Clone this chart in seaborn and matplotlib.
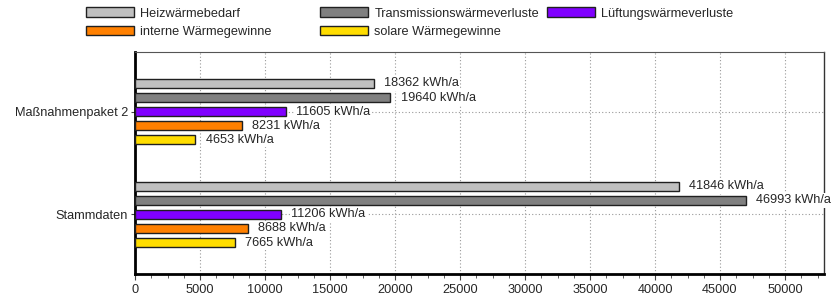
import matplotlib
matplotlib.use("Agg")
import matplotlib.pyplot as plt
import seaborn as sns
import pandas as pd
from matplotlib.patches import Patch
from matplotlib.ticker import MultipleLocator

categories = ["Maßnahmenpaket 2", "Stammdaten"]
series = ["Heizwärmebedarf", "Transmissionswärmeverluste", "Lüftungswärmeverluste",
          "interne Wärmegewinne", "solare Wärmegewinne"]
heiz = [18362, 41846]
trans = [19640, 46993]
lueft = [11605, 11206]
intern = [8231, 8688]
solar = [4653, 7665]
colors = ["#C0C0C0", "#808080", "#8000FF", "#FF8000", "#FFDD00"]
unit = "kWh/a"

values = [heiz, trans, lueft, intern, solar]
rows = []
for s, vals in zip(series, values):
    for c, v in zip(categories, vals):
        rows.append({"Kategorie": c, "Serie": s, "Wert": v})
df = pd.DataFrame(rows)

sns.set_style("white")
plt.rcParams["font.family"] = ["Liberation Sans", "DejaVu Sans"]
FS = 9.2
plt.rcParams["font.size"] = FS

fig = plt.figure(figsize=(8.33, 3.03), dpi=100)
ax = fig.add_axes([135/833, 1-274/303, (824-135)/833, (274-52)/303])

sns.barplot(data=df, y="Kategorie", x="Wert", hue="Serie", order=categories,
            hue_order=series, palette=colors, orient="h", width=0.685, gap=0.36,
            edgecolor="#202020", linewidth=1.0, saturation=1, legend=False, ax=ax, zorder=3)

for cont, vals in zip(ax.containers, values):
    ax.bar_label(cont, labels=[f"{v} {unit}" for v in vals], padding=7.5, fontsize=FS,
                 bbox=dict(facecolor="white", edgecolor="none", pad=1.0), zorder=4)

ax.set_xlim(0, 53000)
ax.set_ylim(1.58, -0.58)
ax.xaxis.set_major_locator(MultipleLocator(5000))
ax.xaxis.set_minor_locator(MultipleLocator(1250))
ax.grid(True, axis="both", which="major", linestyle=(0, (1, 2)), color="#999999", linewidth=0.8, zorder=0)
ax.set_axisbelow(True)
ax.set_xlabel("")
ax.set_ylabel("")
ax.tick_params(axis="x", which="major", bottom=True, length=4, width=0.8, color="#444444", labelsize=FS, pad=3)
ax.tick_params(axis="x", which="minor", bottom=True, length=3, width=0.6, color="#444444")
ax.tick_params(axis="y", left=True, length=3, width=0.8, color="#444444", labelsize=FS, pad=2)

for side in ["left", "bottom"]:
    ax.spines[side].set_linewidth(2.0)
    ax.spines[side].set_color("black")
ax.spines["top"].set_linewidth(0.8)
ax.spines["top"].set_color("#555555")
ax.spines["right"].set_linewidth(1.0)
ax.spines["right"].set_color("#333333")

handles = [Patch(facecolor=c, edgecolor="#202020", linewidth=1.0, label=s) for s, c in zip(series, colors)]
cols = [[0, 3], [1, 4], [2]]
xs = [86, 320, 547]
for idx, x in zip(cols, xs):
    fig.legend(handles=[handles[i] for i in idx], loc="upper left",
               bbox_to_anchor=(x/833, 1-7.5/303), frameon=False, fontsize=FS,
               handlelength=3.75, handleheight=0.75, handletextpad=0.5,
               labelspacing=0.5, borderpad=0, borderaxespad=0)

fig.savefig("out.png", dpi=100)
